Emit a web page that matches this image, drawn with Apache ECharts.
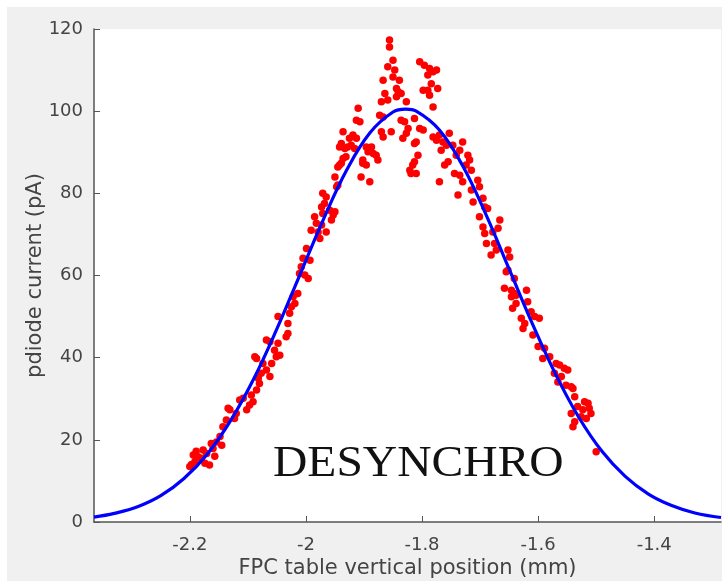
<!DOCTYPE html>
<html>
<head>
<meta charset="utf-8">
<script src="https://cdn.jsdelivr.net/npm/echarts@6/dist/echarts.min.js"></script>
<style>
  html, body { margin: 0; padding: 0; background: #fff; }
  #main { position: absolute; left: 7px; top: 7px; width: 715px; height: 574px; }
</style>
</head>
<body>
<div id="main"></div>
<script>
// axis ticks
const xTicks = [-2.2, -2, -1.8, -1.6, -1.4];
const yTicks = [0, 20, 40, 60, 80, 100, 120];

// fitted curve (blue)
const fitX = [-2.365, -2.33, -2.29, -2.25, -2.21, -2.17, -2.13, -2.09, -2.05, -2.01, -1.97, -1.93, -1.89, -1.85, -1.828,
  -1.81, -1.77, -1.73, -1.69, -1.65, -1.61, -1.57, -1.53, -1.49, -1.45, -1.41, -1.37, -1.33, -1.285];
const fitY = [1.2, 2.1, 3.7, 6.4, 10.6, 16.5, 24.6, 34.8, 47.0, 60.3, 73.6, 85.6, 94.7, 99.8, 100.5,
  100.0, 95.4, 86.7, 74.9, 61.6, 48.3, 36.0, 25.5, 17.2, 11.1, 6.8, 4.0, 2.2, 1.1];

// measured points (red)
const risingLow = [[-2.200,13.5],[-2.191,14.7],[-2.186,15.9],[-2.194,16.3],[-2.180,15.5],[-2.174,14.3],[-2.166,13.9],
  [-2.171,16.7],[-2.160,17.9],[-2.163,19.1],[-2.154,19.5],[-2.145,18.7],[-2.148,20.8],[-2.143,23.2],[-2.137,24.8],
  [-2.131,27.3],[-2.134,27.7],[-2.120,26.4],[-2.123,25.2],[-2.114,29.7],[-2.108,30.1],[-2.102,27.3],[-2.097,28.5],
  [-2.091,29.3],[-2.094,30.9],[-2.085,32.1],[-2.080,33.7],[-2.082,35.0],[-2.077,36.2],[-2.068,37.0],[-2.074,38.6],
  [-2.062,35.4],[-2.059,38.6],[-2.051,40.2],[-2.054,41.8],[-2.045,40.6],[-2.048,43.5],[-2.034,45.1],[-2.031,45.9],
  [-2.062,43.9],[-2.068,44.3],[-2.085,39.8],[-2.088,40.2],[-2.197,14.0],[-2.189,17.2],[-2.177,17.5],[-2.157,16.0]];
const risingHigh = [[-2.048,50.0],[-2.031,48.3],[-2.028,50.8],[-2.025,52.4],[-2.022,54.8],[-2.014,55.6],[-2.019,53.2],
  [-2.011,60.5],[-2.002,60.1],[-1.996,59.3],[-2.008,62.1],[-2.005,64.2],[-1.999,66.6],[-1.993,63.7],[-1.991,71.0],
  [-1.982,72.7],[-1.985,74.3],[-1.976,69.0],[-1.979,70.6],[-1.973,72.3],[-1.965,70.6],[-1.971,75.1],[-1.973,76.7],
  [-1.968,77.5],[-1.971,80.0],[-1.965,79.1],[-1.959,75.9],[-1.953,74.7],[-1.950,75.5],[-1.956,73.5],[-1.947,81.6],
  [-1.950,84.0],[-1.945,86.4],[-1.939,87.3],[-1.905,84.0],[-1.902,87.3]];
const peak = [[-1.856,117.3],[-1.856,115.6],[-1.850,112.4],[-1.859,110.8],[-1.847,110.0],[-1.850,108.3],[-1.839,107.5],
  [-1.867,107.5],[-1.844,105.5],[-1.841,104.7],[-1.836,104.3],[-1.864,104.3],[-1.859,102.7],[-1.870,102.3],[-1.844,103.5],
  [-1.827,102.3],[-1.910,100.7],[-1.873,99.0],[-1.867,98.6],[-1.913,97.8],[-1.907,97.4],[-1.936,95.0],[-1.919,94.2],
  [-1.925,93.4],[-1.913,93.4],[-1.939,92.1],[-1.942,91.3],[-1.933,90.9],[-1.928,91.3],[-1.922,91.7],[-1.916,90.9],
  [-1.931,88.9],[-1.936,88.5],[-1.896,91.3],[-1.887,91.3],[-1.893,90.1],[-1.884,89.7],[-1.879,89.3],[-1.876,88.1],
  [-1.902,88.1],[-1.896,86.9],[-1.890,82.8],[-1.942,86.9],[-1.945,82.0],[-1.853,95.0],[-1.870,95.0],[-1.867,93.7],
  [-1.836,97.8],[-1.830,97.4],[-1.813,98.2],[-1.824,95.8],[-1.827,94.6],[-1.833,93.4],[-1.804,95.8],[-1.798,95.4],
  [-1.813,92.1],[-1.810,92.5],[-1.807,89.3],[-1.813,87.7],[-1.816,86.9],[-1.821,85.6],[-1.819,84.8],[-1.810,84.8],
  [-1.781,93.7],[-1.775,92.9],[-1.764,92.5],[-1.758,91.7],[-1.761,86.9],[-1.770,82.8],[-1.804,112.0],[-1.796,111.2],
  [-1.787,110.4],[-1.781,109.6],[-1.775,110.0],[-1.790,108.8],[-1.784,106.7],[-1.798,105.1],[-1.790,105.1],
  [-1.787,103.9],[-1.773,105.5],[-1.781,101.0]];
const fallingHigh = [[-1.770,94.2],[-1.753,94.6],[-1.747,91.7],[-1.767,90.5],[-1.755,87.7],[-1.730,92.5],[-1.735,90.5],
  [-1.741,89.3],[-1.721,89.3],[-1.718,88.1],[-1.724,86.9],[-1.715,85.6],[-1.744,84.8],[-1.735,84.4],[-1.730,82.8],
  [-1.704,83.2],[-1.701,81.6],[-1.715,80.8],[-1.738,79.6],[-1.712,77.9],[-1.695,78.8],[-1.692,76.7],[-1.687,76.3],
  [-1.701,74.3],[-1.666,73.5],[-1.669,71.5],[-1.695,71.8],[-1.692,70.2],[-1.678,70.6],[-1.689,67.8],[-1.675,67.8],
  [-1.672,66.2],[-1.681,65.0],[-1.652,66.2],[-1.649,64.5],[-1.655,60.9],[-1.641,59.3],[-1.658,56.9],[-1.646,56.4],
  [-1.638,55.2]];
const fallingLow = [[-1.652,61.3],[-1.641,55.6],[-1.646,54.8],[-1.638,53.2],[-1.644,52.0],[-1.620,56.4],[-1.618,53.6],
  [-1.629,49.6],[-1.623,48.3],[-1.626,47.1],[-1.612,51.2],[-1.606,50.0],[-1.598,49.6],[-1.609,45.5],[-1.600,42.7],
  [-1.589,42.3],[-1.592,39.8],[-1.580,40.2],[-1.569,38.6],[-1.563,38.2],[-1.555,37.4],[-1.549,37.0],[-1.572,36.2],
  [-1.560,35.4],[-1.566,34.1],[-1.552,33.3],[-1.543,32.9],[-1.540,32.5],[-1.537,30.5],[-1.520,29.3],[-1.514,28.9],
  [-1.512,27.7],[-1.509,26.4],[-1.523,27.3],[-1.532,28.1],[-1.543,26.4],[-1.537,24.4],[-1.540,23.2],[-1.517,25.2],
  [-1.526,25.6],[-1.500,17.1]];

const measured = [].concat(risingLow, risingHigh, peak, fallingHigh, fallingLow);
const fit = fitX.map((x, i) => [x, fitY[i]]);

const axisColor = '#555';
const textColor = '#444';
const font = 'DejaVu Sans';

let chart = echarts.init(document.getElementById('main'));
chart.setOption({
    animation: false,
    backgroundColor: '#f0f0f0',
    grid: {left: 87, top: 22, right: 1, bottom: 59, outerBoundsMode: 'none',
        show: true, backgroundColor: '#fff', borderWidth: 0},
    xAxis: {
        type: 'value', min: -2.365, max: -1.285,
        name: 'FPC table vertical position (mm)', nameLocation: 'middle', nameGap: 36, nameMoveOverlap: false,
        nameTextStyle: {fontFamily: font, fontSize: 21, color: textColor},
        axisLine: {show: true, onZero: false, lineStyle: {color: axisColor, width: 1.5}},
        axisTick: {show: true, inside: true, length: 6, customValues: xTicks, lineStyle: {color: axisColor}},
        axisLabel: {customValues: xTicks, fontFamily: font, fontSize: 18, color: textColor, margin: 14},
        splitLine: {show: false}
    },
    yAxis: {
        type: 'value', min: 0, max: 120, interval: 20,
        name: 'pdiode current (pA)', nameLocation: 'middle', nameGap: 48, nameRotate: 90, nameMoveOverlap: false,
        nameTextStyle: {fontFamily: font, fontSize: 21, color: textColor},
        axisLine: {show: true, onZero: false, lineStyle: {color: axisColor, width: 1.5}},
        axisTick: {show: true, inside: true, length: 6, customValues: yTicks, lineStyle: {color: axisColor}},
        axisLabel: {customValues: yTicks, fontFamily: font, fontSize: 18, color: textColor, margin: 11},
        splitLine: {show: false}
    },
    graphic: [{
        type: 'text', x: 266, y: 457, scaleX: 1.057, z: 100,
        style: {text: 'DESYNCHRO', fontFamily: 'Liberation Serif', fontSize: 45, fill: '#111',
            align: 'left', verticalAlign: 'middle'}
    }],
    series: [
        {
            type: 'scatter', data: measured, symbolSize: 7.5, z: 2,
            itemStyle: {color: '#ff0000', opacity: 1}
        },
        {
            type: 'line', data: fit, smooth: 0.4, showSymbol: false, z: 3,
            lineStyle: {color: '#0000ff', width: 3.2}
        }
    ]
});
</script>
</body>
</html>
